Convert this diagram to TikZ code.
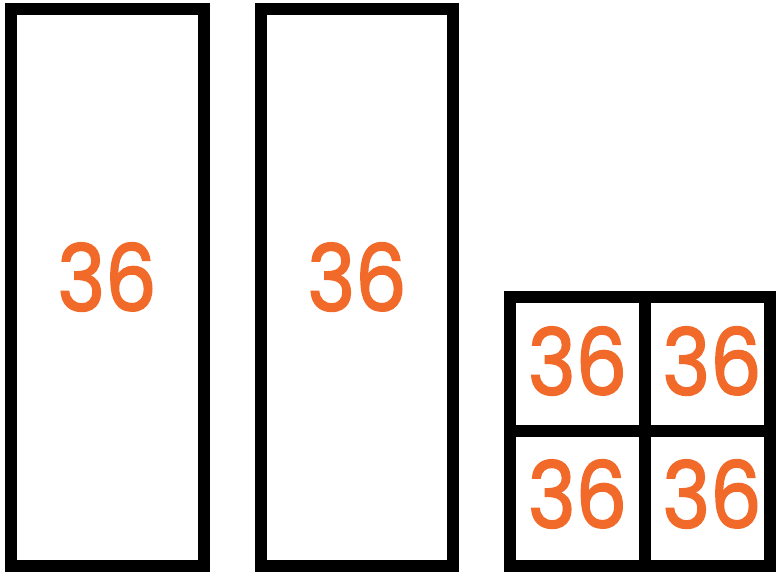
\documentclass[tikz,border=0pt]{standalone}
\usepackage{fontspec}
\setmainfont{Poppins}
\definecolor{numorange}{HTML}{F26A2A}
\begin{document}
\begin{tikzpicture}[x=1pt,y=-1pt,
  box/.style={draw=black,line width=12pt,line join=miter},
  num/.style={text=numorange,inner sep=0pt,xscale=0.88,font=\fontsize{92}{92}\selectfont\addfontfeature{FakeBold=2.2}}]
\useasboundingbox (0,0) rectangle (776,571);
\draw[box] (11,9) rectangle (203.5,566);
\draw[box] (260.5,9) rectangle (452.5,566);
\draw[box] (510,297) rectangle (770,566);
\draw[box] (644.5,297) -- (644.5,566);
\draw[box] (510,430.5) -- (770,430.5);
\node[num] (a) at (107,277) {36};
\node[num] (b) at (357,277) {36};
\node[num] (c) at (577.5,361) {36};
\node[num] (d) at (712,361) {36};
\node[num] (e) at (577.5,494) {36};
\node[num] (f) at (712,494) {36};
\end{tikzpicture}
\end{document}
